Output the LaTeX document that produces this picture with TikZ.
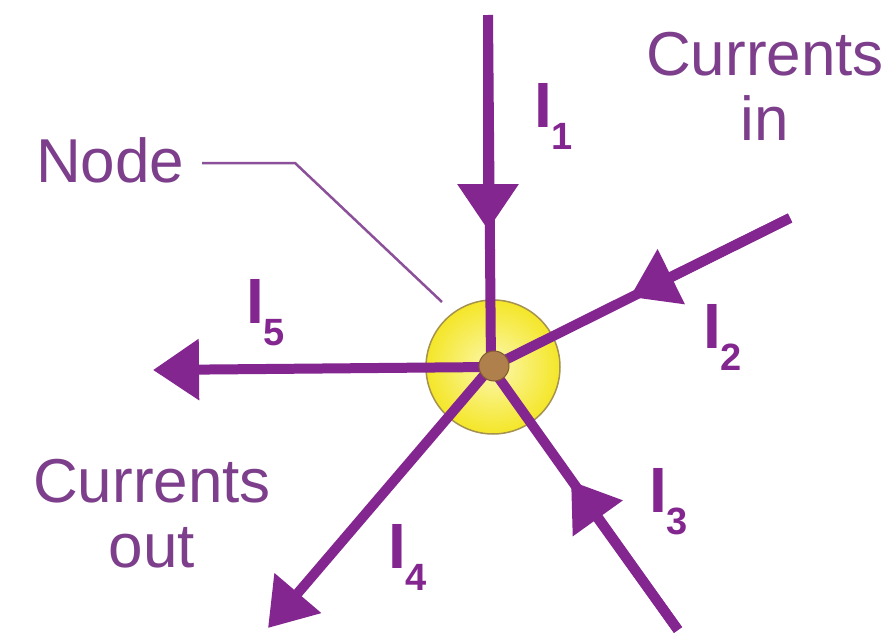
\documentclass[tikz,border=0pt]{standalone}
\usepackage{fontspec}
\setmainfont{Liberation Sans}
\usetikzlibrary{arrows.meta}
\definecolor{wirec}{RGB}{132,38,144}
\definecolor{textc}{RGB}{125,62,140}
\definecolor{leadc}{RGB}{140,80,155}
\definecolor{yelo}{RGB}{244,230,40}
\definecolor{yeli}{RGB}{252,248,175}
\definecolor{rimc}{RGB}{165,145,80}
\definecolor{dotc}{RGB}{176,128,76}
\definecolor{dotr}{RGB}{130,90,50}
\newcommand{\curlab}[1]{{\fontsize{64}{64}\selectfont I}\raisebox{-22pt}{\fontsize{38}{38}\selectfont #1}}
\begin{document}
\begin{tikzpicture}[x=1pt,y=-1pt,
 wire/.style={draw=wirec,line width=10pt},
 tipped/.style={-{Triangle[length=46pt,width=59pt]}},
 lbl/.style={text=textc,font=\fontsize{62}{65}\selectfont,inner sep=0pt,align=center},
 ilbl/.style={text=wirec,font=\bfseries,inner sep=0pt,anchor=base west}]
\useasboundingbox (0,0) rectangle (892,634);
\fill[white] (0,0) rectangle (892,634);
\coordinate (c) at (491,367);
\node[circle, minimum size=134pt, inner sep=0pt, draw=rimc, line width=1.5pt, inner color=yeli, outer color=yelo] (yel) at (493,367) {};
% I1
\coordinate (s1) at (488,15); \coordinate (t1) at (488,230);
\draw[wire] (s1) -- (c);
\draw[wire,tipped] (s1) -- (t1);
% I2
\coordinate (s2) at (790,218); \coordinate (t2) at (630,297);
\draw[wire] (s2) -- (c);
\draw[wire,tipped] (s2) -- (t2);
% I3
\coordinate (s3) at (678,630); \coordinate (t3) at (571,481);
\draw[wire] (s3) -- (c);
\draw[wire,tipped] (s3) -- (t3);
% I4
\coordinate (t4) at (268,628);
\draw[wire,tipped] (c) -- (t4);
% I5
\coordinate (t5) at (153,370);
\draw[wire,tipped] (c) -- (t5);
\node[circle, minimum size=30pt, inner sep=0pt, fill=dotc, draw=dotr, line width=1pt] (dot) at (494,366) {};
% leader
\coordinate (l0) at (202,163); \coordinate (l1) at (295,163); \coordinate (l2) at (442,302);
\draw[leadc, line width=2.5pt] (l0) -- (l1) -- (l2);
% texts
\node[lbl, anchor=base west] (nodel) at (36,182) {Node};
\node[lbl, anchor=base] (cin) at (765,140) {Currents\\in};
\node[lbl, anchor=base] (cout) at (152,567) {Currents\\out};
\node[ilbl] (i1) at (534,128) {\curlab{1}};
\node[ilbl] (i2) at (703,348) {\curlab{2}};
\node[ilbl] (i3) at (649,512) {\curlab{3}};
\node[ilbl] (i4) at (388,568) {\curlab{4}};
\node[ilbl] (i5) at (246,323) {\curlab{5}};
\end{tikzpicture}
\end{document}
